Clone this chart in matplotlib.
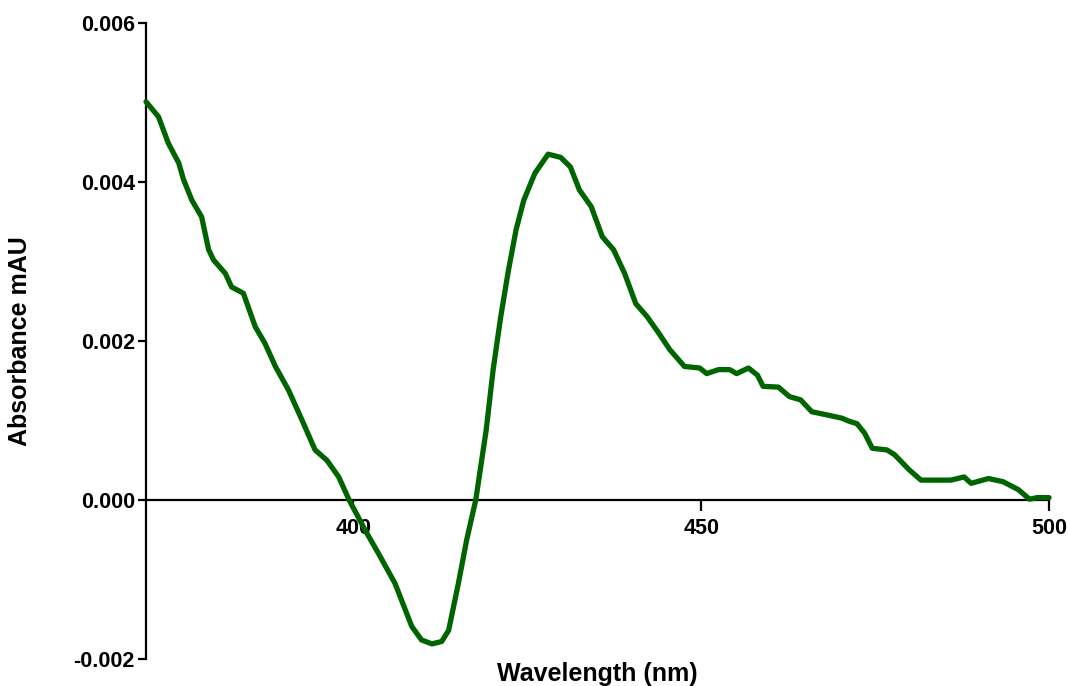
import matplotlib
matplotlib.use('Agg')
import matplotlib.pyplot as plt

# spectrum
wavelength = [
    370.2, 372.0, 373.4, 374.9, 375.6, 376.8, 378.2, 379.2, 379.9, 381.6,
    382.5, 384.2, 385.9, 387.3, 388.8, 390.7, 392.6, 394.5, 396.2, 397.9,
    399.4, 401.7, 403.6, 406.0, 408.4, 409.8, 411.3, 412.7, 413.7, 415.1,
    416.3, 417.6, 419.1, 420.1, 421.2, 422.3, 423.4, 424.5, 426.1, 428.0,
    429.8, 431.2, 432.5, 434.2, 435.8, 437.4, 439.0, 440.6, 442.2, 443.9,
    445.5, 447.6, 449.8, 450.8, 452.5, 454.1, 455.1, 456.8, 458.1, 458.9,
    461.1, 462.7, 464.3, 465.9, 468.1, 470.2, 471.3, 472.4, 473.5, 474.6,
    476.7, 477.8, 479.9, 481.6, 485.9, 487.8, 488.8, 491.3, 493.4, 495.6,
    497.2, 498.3, 500.0,
]
absorbance = [
    0.00501, 0.00482, 0.00449, 0.00424, 0.00403, 0.00377, 0.00356, 0.00315, 0.00302, 0.00285,
    0.00268, 0.00260, 0.00218, 0.00197, 0.00168, 0.00138, 0.00101, 0.00063, 0.00050, 0.00029,
    0.00000, -0.00038, -0.00067, -0.00105, -0.00159, -0.00176, -0.00181, -0.00178, -0.00164, -0.00105,
    -0.00050, 0.00000, 0.00088, 0.00164, 0.00231, 0.00289, 0.00340, 0.00377, 0.00411, 0.00435,
    0.00431, 0.00419, 0.00390, 0.00369, 0.00331, 0.00315, 0.00285, 0.00247, 0.00231, 0.00210,
    0.00189, 0.00168, 0.00166, 0.00159, 0.00164, 0.00164, 0.00159, 0.00166, 0.00157, 0.00143,
    0.00142, 0.00130, 0.00126, 0.00111, 0.00107, 0.00103, 0.00099, 0.00096, 0.00084, 0.00065,
    0.00063, 0.00057, 0.00038, 0.00025, 0.00025, 0.00029, 0.00021, 0.00027, 0.00023, 0.00013,
    0.00001, 0.00003, 0.00003,
]
x_ticks = [400, 450, 500]
y_ticks = [-0.002, 0.000, 0.002, 0.004, 0.006]

plt.rcParams['font.family'] = ['Liberation Sans', 'DejaVu Sans']
plt.rcParams['font.weight'] = 'bold'

fig = plt.figure(figsize=(10.68, 6.86), dpi=100)
ax = fig.add_axes([146 / 1068, 1 - 659 / 686, (1049 - 146) / 1068, 636 / 686])

ax.plot(wavelength, absorbance, color='#006400', linewidth=3.8,
        solid_joinstyle='round', solid_capstyle='round', clip_on=False, zorder=3)

ax.set_xlim(370.2, 500)
ax.set_ylim(-0.002, 0.006)

for side in ('top', 'right'):
    ax.spines[side].set_visible(False)
ax.spines['bottom'].set_position(('data', 0))
ax.spines['left'].set_linewidth(1.6)
ax.spines['bottom'].set_linewidth(1.6)

ax.set_xticks(x_ticks)
ax.set_yticks(y_ticks)
ax.set_yticklabels([f'{v:.3f}' for v in y_ticks])
ax.tick_params(axis='x', direction='out', length=8, width=1.6, pad=5, labelsize=15.5)
ax.tick_params(axis='y', direction='out', length=6, width=1.6, pad=2, labelsize=15.5)

ax.set_ylabel('Absorbance mAU', fontsize=18, fontweight='bold')
ax.yaxis.set_label_coords(-0.126, 0.5)
ax.set_xlabel('Wavelength (nm)', fontsize=18, fontweight='bold')
ax.xaxis.set_label_coords(0.5, -0.004)

fig.savefig('out.png', dpi=100)
